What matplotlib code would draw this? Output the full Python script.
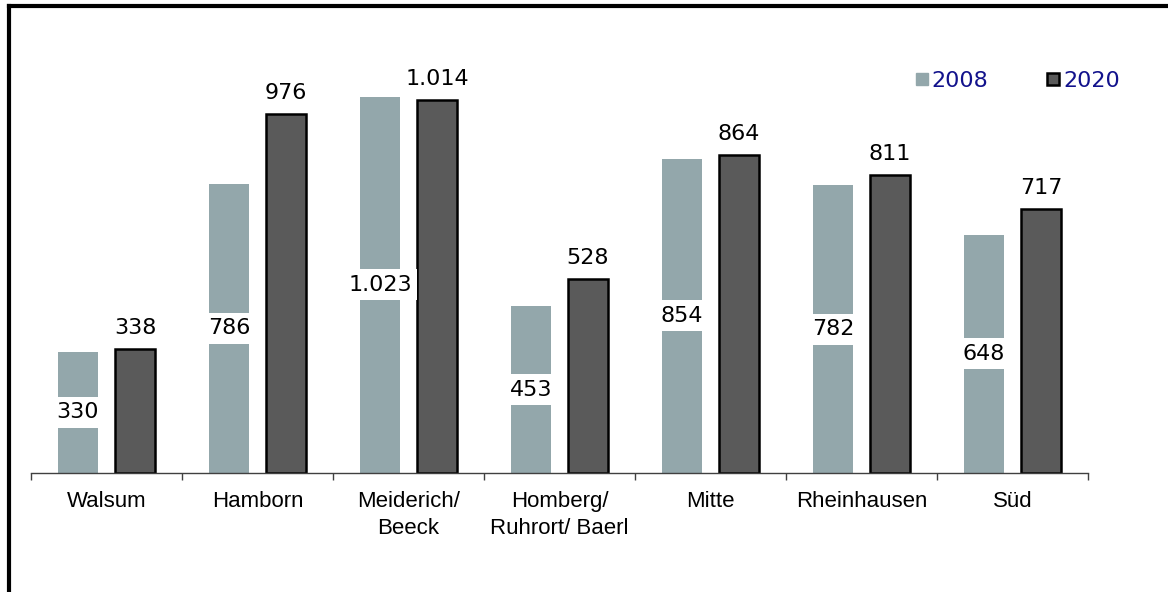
import numpy as np
import matplotlib.pyplot as plt
from matplotlib.lines import Line2D

# Data
categories = ['Walsum', 'Hamborn', 'Meiderich/\nBeeck', 'Homberg/\nRuhrort/ Baerl',
              'Mitte', 'Rheinhausen', 'Süd']
values_2008 = [330, 786, 1023, 453, 854, 782, 648]
values_2020 = [338, 976, 1014, 528, 864, 811, 717]

c2008 = '#93A7AB'
c2020 = '#5A5A5A'


def fmt(v):
    return f'{v:,}'.replace(',', '.')


fig = plt.figure(figsize=(11.68, 5.92), dpi=100)
ax = fig.add_axes([31 / 1168, 119 / 592, 1057 / 1168, 433 / 592])

x = np.arange(len(categories))
off = 0.189
w = 0.265

ax.bar(x - off, values_2008, width=w, color=c2008, zorder=2)
ax.bar(x + off, values_2020, width=w, color=c2020, edgecolor='black',
       linewidth=1.8, zorder=2)

for xi, v in zip(x, values_2008):
    ax.text(xi - off, v / 2, fmt(v), ha='center', va='center', fontsize=16,
            family='DejaVu Sans', zorder=3,
            bbox=dict(facecolor='white', edgecolor='none', boxstyle='square,pad=0.25'))

for xi, v in zip(x, values_2020):
    ax.annotate(fmt(v), (xi + off, v), xytext=(0, 8), textcoords='offset points',
                ha='center', va='bottom', fontsize=16, family='DejaVu Sans', zorder=3)

ax.set_xlim(-0.5, len(categories) - 0.5)
ax.set_ylim(0, 1177)

for s in ['top', 'right', 'left']:
    ax.spines[s].set_visible(False)
ax.spines['bottom'].set_color('#404040')
ax.spines['bottom'].set_linewidth(1)
ax.set_yticks([])

ax.set_xticks(np.arange(len(categories) + 1) - 0.5)
ax.set_xticklabels([])
ax.tick_params(axis='x', which='major', direction='out', length=5, width=1, color='#404040')
ax.set_xticks(x, minor=True)
ax.set_xticklabels(categories, minor=True, fontsize=16, family='Liberation Sans',
                   linespacing=1.35)
ax.tick_params(axis='x', which='minor', length=0, pad=13)

# legend
handles = [Line2D([], [], marker='s', linestyle='none', markersize=9,
                  markerfacecolor=c2008, markeredgecolor=c2008),
           Line2D([], [], marker='s', linestyle='none', markersize=9,
                  markerfacecolor=c2020, markeredgecolor='black', markeredgewidth=1.8)]
leg = fig.legend(handles, ['2008', '2020'], ncol=2, frameon=False,
                 loc='center left', bbox_to_anchor=(914 / 1168, 1 - 81 / 592),
                 borderpad=0, borderaxespad=0, handlelength=0.7, handletextpad=0.1,
                 columnspacing=2.55, prop={'family': 'DejaVu Sans', 'size': 16})
for t in leg.get_texts():
    t.set_color('#12128C')

# outer border (left + top)
fig.add_artist(Line2D([8.5 / 1168, 8.5 / 1168], [0, 1 - 6 / 592], color='black',
                      linewidth=3, transform=fig.transFigure, solid_capstyle='projecting'))
fig.add_artist(Line2D([8.5 / 1168, 1], [1 - 6 / 592, 1 - 6 / 592], color='black',
                      linewidth=3, transform=fig.transFigure, solid_capstyle='projecting'))

fig.savefig('out.png', dpi=100)
